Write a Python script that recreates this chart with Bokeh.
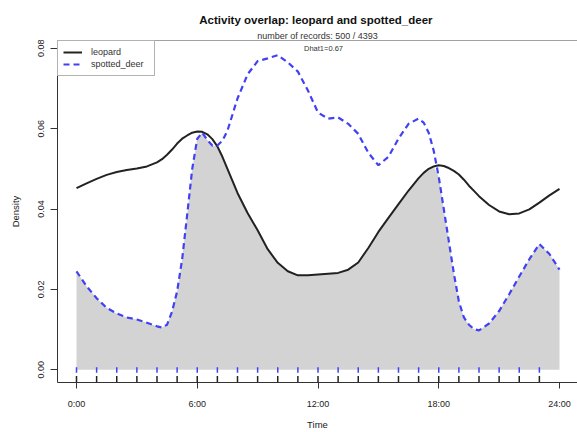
import numpy as np
from bokeh.plotting import figure
from bokeh.models import FixedTicker, Span, Label, Legend, LegendItem, Range1d, Title
from bokeh.embed import file_html
from bokeh.resources import INLINE

# ---- data ----
hours = [0, 0.5, 1, 1.5, 2, 2.5, 3, 3.5, 4, 4.25, 4.5, 4.75, 5, 5.25, 5.5, 5.75,
         6, 6.25, 6.5, 6.75, 7, 7.25, 7.5, 8, 8.5, 9, 9.5, 10, 10.5, 11, 11.5, 12,
         12.5, 13, 13.5, 14, 14.5, 15, 15.5, 16, 16.5, 17, 17.25, 17.5, 17.75, 18,
         18.25, 18.5, 18.75, 19, 19.25, 19.5, 19.75, 20, 20.5, 21, 21.5, 22, 22.5,
         23, 23.5, 24]
leopard = [0.0452, 0.0464, 0.0475, 0.0485, 0.0492, 0.0497, 0.0501, 0.0506, 0.0516,
           0.0524, 0.0535, 0.0548, 0.0563, 0.0575, 0.0583, 0.0590,
           0.0593, 0.0592, 0.0586, 0.0574, 0.0556, 0.0530, 0.0500, 0.0440, 0.0390,
           0.0347, 0.0300, 0.0266, 0.0245, 0.0235, 0.0235, 0.0237,
           0.0239, 0.0241, 0.0249, 0.0267, 0.0303, 0.0343, 0.0378, 0.0412, 0.0446,
           0.0477, 0.0490, 0.0500, 0.0506, 0.0509,
           0.0507, 0.0502, 0.0495, 0.0486, 0.0473, 0.0458, 0.0445, 0.0432, 0.0410,
           0.0394, 0.0387, 0.0389, 0.0399, 0.0416, 0.0434, 0.0450]
spotted_deer = [0.0245, 0.0208, 0.0178, 0.0154, 0.0140, 0.0130, 0.0125, 0.0117, 0.0108,
                0.0105, 0.0112, 0.0145, 0.0195, 0.0275, 0.0386, 0.0500,
                0.0575, 0.0590, 0.0572, 0.0558, 0.0558, 0.0570, 0.0595, 0.0675, 0.0735,
                0.0768, 0.0775, 0.0783, 0.0765, 0.0742, 0.0695, 0.0640,
                0.0625, 0.0628, 0.0612, 0.0587, 0.0540, 0.0509, 0.0530, 0.0575, 0.0612,
                0.0625, 0.0615, 0.0590, 0.0545, 0.0480,
                0.0400, 0.0320, 0.0240, 0.0170, 0.0130, 0.0112, 0.0101, 0.0098, 0.0115,
                0.0146, 0.0188, 0.0232, 0.0275, 0.0313, 0.0288, 0.0249]
rug_leopard = [0, 1, 2, 3, 4, 5, 6, 7, 8, 9, 10, 11, 12, 13, 14, 15, 16, 17, 18, 19, 20, 21, 22, 23]
rug_deer = [0, 1, 2, 3, 4, 5, 6, 7, 8, 9, 10, 11, 12, 13, 14, 15, 16, 17, 18, 19, 20, 21, 22, 23]
x_ticks = [0, 6, 12, 18, 24]
x_tick_labels = ["0:00", "6:00", "12:00", "18:00", "24:00"]
y_ticks = [0.0, 0.02, 0.04, 0.06, 0.08]
y_tick_labels = ["0.00", "0.02", "0.04", "0.06", "0.08"]
title_text = "Activity overlap:  leopard and spotted_deer"
subtitle_text = "number of records: 500 / 4393"
dhat_text = "Dhat1=0.67"

# ---- layout geometry (page pixels of the reference) ----
W, H = 577, 432
FRAME_L, FRAME_T, FRAME_B = 57, 40, 388
PX_PER_HOUR = 20.125
Y_PER_PX = 0.0002446
X0_PAGE, Y0_PAGE = 76, 375         # page px of hour 0 / density 0
frame_w = W - FRAME_L
frame_h = FRAME_B - FRAME_T
x_start = -(X0_PAGE - FRAME_L) / PX_PER_HOUR
x_end = x_start + frame_w / PX_PER_HOUR
y_end = (Y0_PAGE - FRAME_T) * Y_PER_PX
y_start = y_end - frame_h * Y_PER_PX


def px_x(page_x):
    return x_start + (page_x - FRAME_L) / PX_PER_HOUR


def px_y(page_y):
    return y_end - (page_y - FRAME_T) * Y_PER_PX


FONT = "Liberation Sans"

p = figure(width=W, height=H, output_backend="svg", toolbar_location=None,
           x_range=Range1d(x_start, x_end), y_range=Range1d(y_start, y_end),
           min_border_left=FRAME_L, min_border_top=FRAME_T,
           min_border_right=0, min_border_bottom=H - FRAME_B)
p.outline_line_color = None
p.grid.visible = False
p.background_fill_color = "white"
p.border_fill_color = "white"

# overlap fill
overlap = np.minimum(np.array(leopard), np.array(spotted_deer))
p.varea(x=hours, y1=0, y2=overlap, fill_color="#d3d3d3", fill_alpha=1.0)

r_leo = p.line(hours, leopard, line_color="#222222", line_width=2)
r_deer = p.line(hours, spotted_deer, line_color="#4040f5", line_width=2.2,
                line_dash="6 4")

# rugs
p.segment(x0=rug_deer, y0=px_y(378), x1=rug_deer, y1=px_y(372.5),
          line_color="#4040f5", line_width=1.5)
p.segment(x0=rug_leopard, y0=px_y(387.5), x1=rug_leopard, y1=px_y(381.5),
          line_color="#222222", line_width=1.5)

# top line of the box
p.add_layout(Span(location=y_end, dimension="width", line_color="#444444",
                  line_width=1))

# axes
for ax in (p.xaxis[0], p.yaxis[0]):
    ax.axis_line_color = "#333333"
    ax.major_tick_line_color = "#333333"
    ax.minor_tick_line_color = None
    ax.major_tick_in = 0
    ax.major_label_text_font = FONT
    ax.major_label_text_font_size = "9px"
    ax.major_label_text_color = "#222222"
    ax.axis_label_text_font = FONT
    ax.axis_label_text_font_size = "9.5px"
    ax.axis_label_text_font_style = "normal"
    ax.axis_label_text_color = "#222222"

xa = p.xaxis[0]
xa.ticker = FixedTicker(ticks=x_ticks)
xa.major_label_overrides = {t: l for t, l in zip(x_ticks, x_tick_labels)}
xa.major_tick_out = 6
xa.major_label_standoff = 10
xa.axis_label = "Time"
xa.axis_label_standoff = 7

ya = p.yaxis[0]
ya.ticker = FixedTicker(ticks=y_ticks)
ya.major_label_overrides = {t: l for t, l in zip(y_ticks, y_tick_labels)}
ya.major_tick_out = 7
ya.major_label_standoff = 6
ya.major_label_orientation = "vertical"
ya.axis_label = "Density"
ya.axis_label_standoff = 15

# titles
p.add_layout(Title(text=subtitle_text, align="center", text_font=FONT,
                   text_font_size="9px", text_font_style="normal",
                   text_color="#333333", standoff=0, offset=0), "above")
p.add_layout(Title(text=title_text, align="center", text_font=FONT,
                   text_font_size="11.5px", text_font_style="bold",
                   text_color="#111111", standoff=6, offset=0), "above")
p.add_layout(Label(x=px_x(323), y=px_y(48.5), text=dhat_text, text_font=FONT,
                   text_font_size="7.5px", text_align="center",
                   text_baseline="middle", text_color="#333333"))

legend = Legend(items=[LegendItem(label="leopard", renderers=[r_leo]),
                       LegendItem(label="spotted_deer", renderers=[r_deer])],
                location="top_left")
legend.margin = 0
legend.padding = 5
legend.spacing = 0
legend.glyph_width = 19
legend.glyph_height = 12
legend.label_height = 12
legend.label_width = 58
legend.label_standoff = 9
legend.label_text_font = FONT
legend.label_text_font_size = "9px"
legend.label_text_color = "#333333"
legend.border_line_color = "#666666"
legend.border_line_width = 1
legend.background_fill_color = "white"
legend.background_fill_alpha = 1.0
p.add_layout(legend)

open("out.html", "w").write(file_html(p, INLINE))
